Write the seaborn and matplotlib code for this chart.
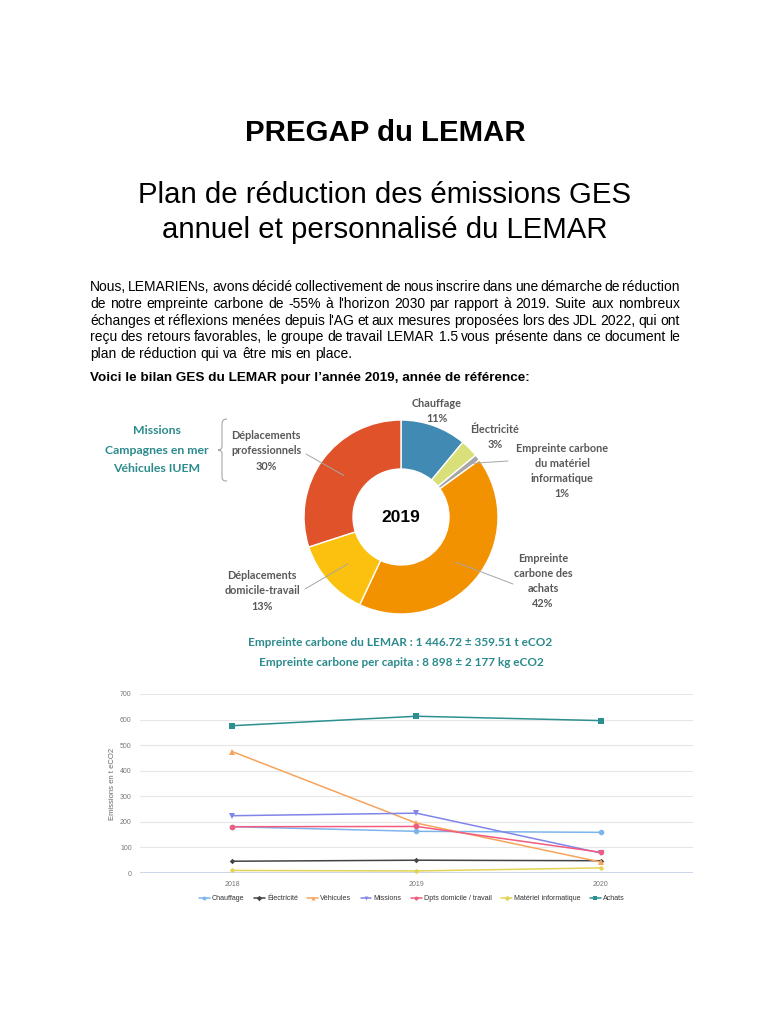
import numpy as np
import pandas as pd
import seaborn as sns
import matplotlib.pyplot as plt
from matplotlib.path import Path
from matplotlib.patches import PathPatch
from matplotlib.lines import Line2D

#%% data
# donut 2019 (parts in %)
postes = ['Chauffage', 'Électricité', 'Empreinte carbone\ndu matériel\ninformatique',
          'Empreinte\ncarbone des\nachats', 'Déplacements\ndomicile-travail',
          'Déplacements\nprofessionnels']
parts = [11, 3, 1, 42, 13, 30]
couleurs_donut = ['#418AB3', '#D9E07A', '#A5A5A5', '#F39200', '#FCC10F', '#E0532A']

# emissions per year (t eCO2)
annees = ['2018', '2019', '2020']
chauffage = [181, 163, 159]
electricite = [46, 50, 48]
vehicules = [475, 195, 43]
missions = [224, 234, 78]
dpts = [181, 182, 81]
materiel = [10, 8, 20]
achats = [576, 613, 596]

series = ['Chauffage', 'Électricité', 'Véhicules', 'Missions',
          'Dpts domicile / travail', 'Matériel informatique', 'Achats']
couleurs = ['#7CB5EC', '#434348', '#F7A35C', '#8085E9', '#F15C80', '#E4D354', '#2B908F']
marqueurs = ['o', 'D', '^', 'v', 'o', 'D', 's']

W, H = 770, 1024
def fx(x): return x / W
def fy(y): return 1 - y / H

sns.set_theme(style='white')
plt.rcParams['font.family'] = ['Liberation Sans', 'DejaVu Sans']
plt.rcParams['text.color'] = 'black'

fig = plt.figure(figsize=(7.7, 10.24), dpi=100)
fig.patch.set_facecolor('white')
rend = fig.canvas.get_renderer()

#%% titles
fig.text(fx(385), fy(141), 'PREGAP du LEMAR', ha='center', va='baseline',
         fontsize=21.2, weight='bold')
fig.text(fx(385), fy(203), 'Plan de réduction des émissions GES', ha='center',
         va='baseline', fontsize=21.2)
fig.text(fx(385), fy(238), 'annuel et personnalisé du LEMAR', ha='center',
         va='baseline', fontsize=21.2)

#%% justified paragraph
lignes = [
    "Nous, LEMARIENs, avons décidé collectivement de nous inscrire dans une démarche de réduction",
    "de notre empreinte carbone de -55% à l'horizon 2030 par rapport à 2019. Suite aux nombreux",
    "échanges et réflexions menées depuis l'AG et aux mesures proposées lors des JDL 2022, qui ont",
    "reçu des retours favorables, le groupe de travail LEMAR 1.5 vous présente dans ce document le",
    "plan de réduction qui va être mis en place.",
]
taille = 10.0
for i, ligne in enumerate(lignes):
    y = fy(291 + i * 16.8)
    mots = ligne.split()
    objs = [fig.text(0, y, m, fontsize=taille, va='baseline') for m in mots]
    larg = [o.get_window_extent(rend).width for o in objs]
    if i < len(lignes) - 1:
        gap = (680 - 90 - sum(larg)) / (len(mots) - 1)
    else:
        gap = taille * 100 / 72 * 0.278
    x = 90
    for o, w in zip(objs, larg):
        o.set_x(fx(x))
        x += w + gap

fig.text(fx(90), fy(381), 'Voici le bilan GES du LEMAR pour l’année 2019, année de référence:',
         fontsize=9.7, weight='bold', va='baseline')

#%% donut
axd = fig.add_axes([fx(291), fy(627), 220 / W, 220 / H])
axd.pie(parts, colors=couleurs_donut, startangle=90, counterclock=False, radius=0.97,
        wedgeprops=dict(width=0.49, edgecolor='white', linewidth=1))
axd.set_xlim(-1.1, 1.1)
axd.set_ylim(-1.1, 1.1)
axd.axis('off')
axd.text(0, 0, '2019', ha='center', va='center', fontsize=12.5, weight='bold')

lab_pos = [(437, 411), (495, 437), (562, 471), (543, 581), (262, 591), (266, 451)]
lead = [None, None, (508, 461), (513, 584), (305, 589), (306, 454)]
lead_r = [0, 0, 0.9, 0.73, 0.73, 0.73]
cum = np.cumsum([0] + parts)
for k, nom in enumerate(postes):
    txt = f'{nom}\n{parts[k]}%'
    fig.text(fx(lab_pos[k][0]), fy(lab_pos[k][1]), txt, ha='center', va='center',
             fontsize=7.8, weight='bold', color='#595959', family=['Lato', 'DejaVu Sans'],
             linespacing=1.45)
    if lead[k] is not None:
        a = np.deg2rad((cum[k] + cum[k + 1]) / 2 / 100 * 360)
        x0 = 401 + 97 * lead_r[k] * np.sin(a)
        y0 = 517 - 97 * lead_r[k] * np.cos(a)
        fig.add_artist(Line2D([fx(x0), fx(lead[k][0])], [fy(y0), fy(lead[k][1])],
                              transform=fig.transFigure, color='#A6A6A6', lw=0.7))

# left note + brace
teal = '#2B8A8C'
for y, t in zip([431, 450, 469], ['Missions', 'Campagnes en mer', 'Véhicules IUEM']):
    fig.text(fx(157), fy(y), t, ha='center', va='center', fontsize=8.8, color=teal,
             family=['Lato', 'DejaVu Sans'], weight='bold')
pts = [(227, 419), (223, 419), (222, 421), (222, 425), (222, 446),
       (222, 449), (220, 450), (218, 450), (220, 450), (222, 451), (222, 454),
       (222, 476), (222, 480), (223, 481), (227, 481)]
codes = [Path.MOVETO, Path.CURVE4, Path.CURVE4, Path.CURVE4, Path.LINETO,
         Path.CURVE4, Path.CURVE4, Path.CURVE4, Path.CURVE4, Path.CURVE4, Path.CURVE4,
         Path.LINETO, Path.CURVE4, Path.CURVE4, Path.CURVE4]
brace = Path([(fx(a), fy(b)) for a, b in pts], codes)
fig.add_artist(PathPatch(brace, transform=fig.transFigure, fill=False,
                         edgecolor='#A6A6A6', lw=0.8))

fig.text(fx(400), fy(643), 'Empreinte carbone du LEMAR : 1 446.72 ± 359.51 t eCO2',
         ha='center', va='center', fontsize=8.5, weight='bold', color=teal,
         family=['Lato', 'DejaVu Sans'])
fig.text(fx(401), fy(662), 'Empreinte carbone per capita : 8 898 ± 2 177 kg eCO2',
         ha='center', va='center', fontsize=8.5, weight='bold', color=teal,
         family=['Lato', 'DejaVu Sans'])

#%% line chart
valeurs = [chauffage, electricite, vehicules, missions, dpts, materiel, achats]
rows = []
for nom, vals in zip(series, valeurs):
    for j, v in enumerate(vals):
        rows.append({'pos': j, 'Emissions': v, 'Poste': nom})
df = pd.DataFrame(rows)

axl = fig.add_axes([fx(140), fy(873), (693 - 140) / W, (873 - 694) / H])
sns.lineplot(data=df, x='pos', y='Emissions', hue='Poste', style='Poste',
             hue_order=series, style_order=series,
             palette=dict(zip(series, couleurs)), markers=dict(zip(series, marqueurs)),
             dashes=False, linewidth=1.1, markersize=4, markeredgewidth=0, ax=axl)
for ln in axl.lines:
    if ln.get_marker() == 'D':
        ln.set_markersize(2.8)
axl.set_xlim(-0.5, 2.5)
axl.set_ylim(0, 700)
axl.set_yticks(range(0, 701, 100))
axl.set_xticks([0, 1, 2])
axl.set_xticklabels(annees)
axl.tick_params(axis='both', length=0, labelsize=5, labelcolor='#777777', pad=6)
axl.yaxis.grid(True, color='#E6E6E6', lw=0.8)
for s in axl.spines.values():
    s.set_visible(False)
axl.axhline(0, color='#CCD6EB', lw=1.5, zorder=0)
axl.set_xlabel('')
axl.set_ylabel('Emissions en t eCO2', fontsize=5.5, color='#666666', labelpad=3)
leg = axl.legend(loc='upper center', bbox_to_anchor=(fx(412), fy(889)),
                 bbox_transform=fig.transFigure, ncol=7, frameon=False, fontsize=5.1,
                 handlelength=1.5, columnspacing=1.3, handletextpad=0.35,
                 labelcolor='#333333')
for h in leg.legend_handles:
    h.set_markersize(2.8)

fig.savefig('out.png', dpi=100, facecolor='white')
